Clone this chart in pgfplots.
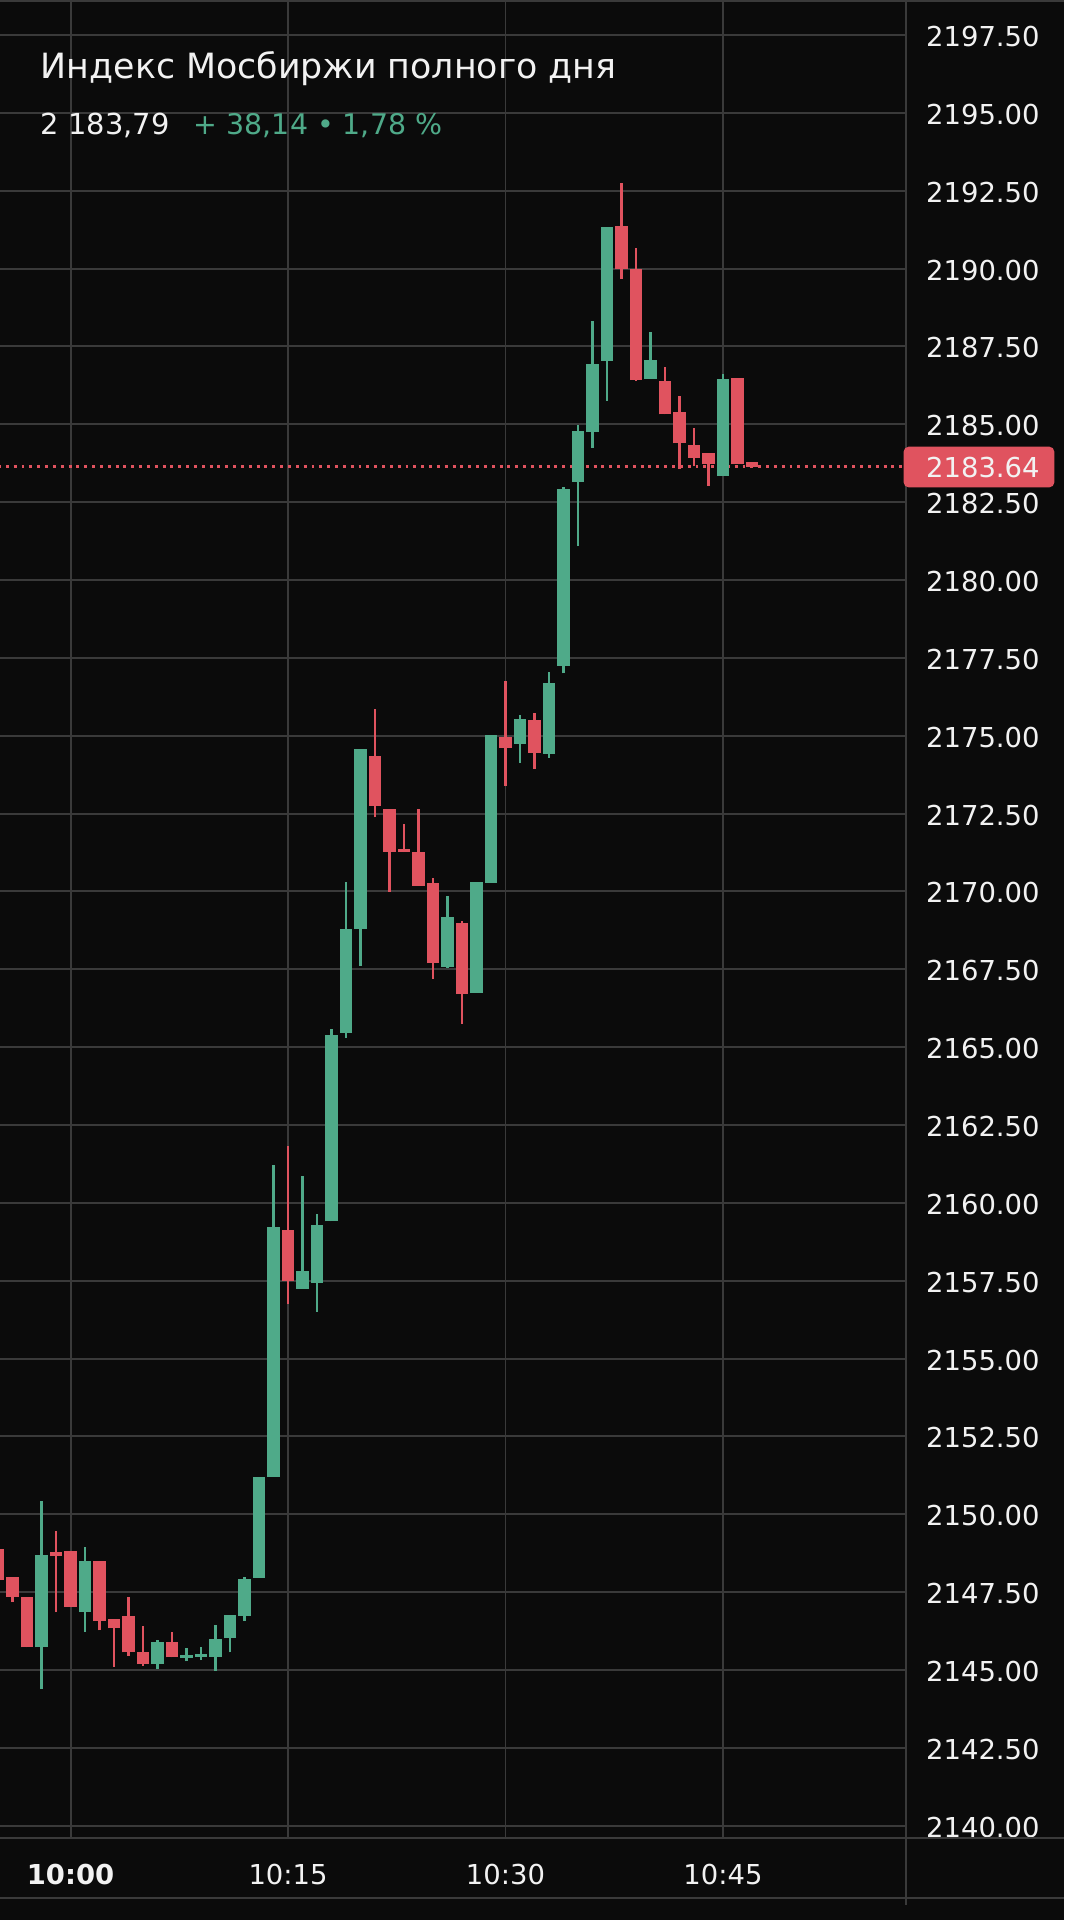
\documentclass[border=0pt]{standalone}
\usepackage{fontspec}
\setmainfont{DejaVu Sans}
\usepackage{pgfplots}
\usepackage{pgfplotstable}
\pgfplotsset{compat=1.18}
\definecolor{bg}{HTML}{0B0B0B}
\definecolor{gridc}{HTML}{3A3A3A}
\definecolor{up}{HTML}{4FAA89}
\definecolor{dn}{HTML}{E0535F}
\definecolor{txt}{HTML}{F2F2F2}

% x = minutes after 10:00, l/h = wick low/high, bl/bh = body low/high
\pgfplotstableread{
x l h bl bh
-2 2144.39 2150.42 2145.73 2148.70
1 2146.23 2148.94 2146.86 2148.51
6 2145.03 2145.98 2145.19 2145.91
8 2145.28 2145.70 2145.40 2145.48
9 2145.32 2145.73 2145.42 2145.50
10 2144.98 2146.45 2145.43 2146.00
11 2145.57 2146.77 2146.02 2146.77
12 2146.59 2147.98 2146.73 2147.91
13 2147.96 2151.20 2147.96 2151.20
14 2151.20 2161.23 2151.20 2159.22
16 2157.24 2160.85 2157.24 2157.80
17 2156.51 2159.64 2157.42 2159.30
18 2159.41 2165.59 2159.41 2165.38
19 2165.30 2170.31 2165.46 2168.81
20 2167.61 2174.57 2168.81 2174.57
26 2167.55 2169.85 2167.58 2169.18
28 2166.74 2170.30 2166.74 2170.30
29 2170.28 2175.02 2170.28 2175.02
31 2174.14 2175.68 2174.74 2175.54
33 2174.30 2177.06 2174.43 2176.70
34 2177.00 2183.00 2177.24 2182.93
35 2181.09 2184.97 2183.15 2184.78
36 2184.25 2188.32 2184.76 2186.95
37 2185.75 2191.35 2187.04 2191.35
40 2186.45 2187.95 2186.45 2187.08
45 2183.34 2186.62 2183.34 2186.47
}\uptab

\pgfplotstableread{
x l h bl bh
-5 2147.80 2149.00 2147.90 2148.90
-4 2147.18 2148.00 2147.35 2148.00
-3 2145.73 2147.34 2145.73 2147.34
-1 2146.86 2149.48 2148.66 2148.79
0 2147.04 2148.81 2147.04 2148.81
2 2146.27 2148.51 2146.57 2148.51
3 2145.11 2146.64 2146.34 2146.64
4 2145.46 2147.36 2145.57 2146.72
5 2145.14 2146.43 2145.19 2145.57
7 2145.41 2146.23 2145.41 2145.91
15 2156.76 2161.82 2157.50 2159.13
21 2172.38 2175.86 2172.75 2174.36
22 2169.99 2172.64 2171.28 2172.64
23 2171.26 2172.16 2171.26 2171.36
24 2170.18 2172.64 2170.18 2171.28
25 2167.20 2170.42 2167.70 2170.28
27 2165.75 2169.06 2166.70 2168.99
30 2173.39 2176.76 2174.60 2174.96
32 2173.93 2175.73 2174.46 2175.49
38 2189.66 2192.75 2189.98 2191.38
39 2186.40 2190.65 2186.42 2190.00
41 2185.32 2186.84 2185.32 2186.38
42 2183.56 2185.91 2184.39 2185.38
43 2183.66 2184.88 2183.92 2184.33
44 2183.02 2184.09 2183.72 2184.09
46 2183.72 2186.48 2183.72 2186.48
47 2183.64 2183.79 2183.64 2183.79
}\dntab

\begin{document}
\begin{tikzpicture}
\fill[bg] (0,0) rectangle (434.5pt,-784pt);
\begin{axis}[
  at={(0pt,0pt)}, anchor=north west,
  scale only axis, width=370pt, height=750.5pt,
  xmin=-4.865, xmax=57.63, ymin=2139.607, ymax=2198.625,
  axis line style={draw=none},
  major tick length=0pt,
  grid=major,
  major grid style={draw=gridc, line width=0.8pt},
  xtick={0,15,30,45},
  xticklabels={\textbf{10:00},10:15,10:30,10:45},
  xticklabel style={anchor=base, yshift=-18.85pt, font=\fontsize{11.2}{13}\selectfont, text=txt},
  ytick={2140,2142.5,2145,2147.5,2150,2152.5,2155,2157.5,2160,2162.5,2165,2167.5,2170,2172.5,2175,2177.5,2180,2182.5,2185,2187.5,2190,2192.5,2195,2197.5},
  yticklabel pos=right,
  yticklabel style={anchor=west, inner sep=0pt, xshift=8pt, yshift=-0.6pt, font=\fontsize{11.2}{13}\selectfont, text=txt,
    /pgf/number format/.cd, fixed, fixed zerofill, precision=2, 1000 sep={}, assume math mode=true},
]
\addplot[dn, line width=1pt, dash pattern=on 1.2pt off 2pt, forget plot] coordinates {(-5,2183.64) (58,2183.64)};
% wicks
\addplot[draw=none, mark=none, forget plot, error bars/.cd, y dir=plus, y explicit, error mark=none,
  error bar style={draw=up, line width=0.95pt}]
  table[x=x, y=l, y error expr=\thisrow{h}-\thisrow{l}] {\uptab};
\addplot[draw=none, mark=none, forget plot, error bars/.cd, y dir=plus, y explicit, error mark=none,
  error bar style={draw=dn, line width=0.95pt}]
  table[x=x, y=l, y error expr=\thisrow{h}-\thisrow{l}] {\dntab};
% bodies
\addplot[draw=none, mark=none, forget plot, error bars/.cd, y dir=plus, y explicit, error mark=none,
  error bar style={draw=up, line width=5pt}]
  table[x=x, y=bl, y error expr=\thisrow{bh}-\thisrow{bl}] {\uptab};
\addplot[draw=none, mark=none, forget plot, error bars/.cd, y dir=plus, y explicit, error mark=none,
  error bar style={draw=dn, line width=5pt}]
  table[x=x, y=bl, y error expr=\thisrow{bh}-\thisrow{bl}] {\dntab};
\end{axis}
\draw[gridc, line width=0.8pt] (0,-0.4pt) -- (434.5pt,-0.4pt);
\draw[gridc, line width=0.8pt] (370pt,0) -- (370pt,-778pt);
\draw[gridc, line width=0.8pt] (0,-750.5pt) -- (434.5pt,-750.5pt);
\draw[gridc, line width=0.8pt] (0,-775pt) -- (434.5pt,-775pt);
\fill[dn, rounded corners=2pt] (369pt,-182.4pt) rectangle (430.5pt,-199pt);
\node[anchor=west, inner sep=0pt, text=txt, font=\fontsize{11.2}{13}\selectfont] at (378pt,-190.9pt) {2183.64};
\node[anchor=base west, inner sep=0pt, text=txt, font=\fontsize{14.2}{17}\selectfont] at (16.5pt,-32pt) {Индекс Мосбиржи полного дня};
\node[anchor=base west, inner sep=0pt, text=txt, font=\fontsize{11.8}{14}\selectfont] at (16.5pt,-55pt) {2 183,79};
\node[anchor=base west, inner sep=0pt, text=up, font=\fontsize{11.6}{14}\selectfont] at (79pt,-55pt) {+ 38,14 • 1,78 \%};
\pgfresetboundingbox
\useasboundingbox (0,0) rectangle (434.5pt,-784pt);
\end{tikzpicture}
\end{document}
